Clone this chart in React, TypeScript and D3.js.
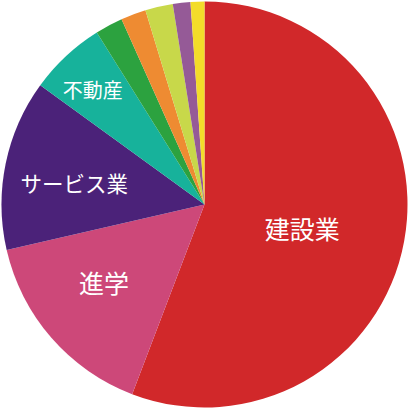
import * as d3 from "d3";

const categories = ["建設業", "進学", "サービス業", "不動産", "その他1", "その他2", "その他3", "その他4", "その他5"];
const values = [55.8, 15.6, 13.6, 6.1, 2.2, 2.0, 2.2, 1.4, 1.1];
const colors = ["#d1282a", "#cd4879", "#4b2279", "#17b29b", "#2ca23f", "#ee8b32", "#c8d84a", "#955a97", "#f3dc2a"];
const labels = ["建設業", "進学", "サービス業", "不動産", "", "", "", "", ""];
const labelSizes = [25, 25, 21.5, 20, 0, 0, 0, 0, 0];

const W = 409;
const H = 409;
const cx = 204.5;
const cy = 204.5;
const R = 203;

// label radius fraction and small pixel nudge per slice
const labelPlace: [number, number, number][] = [
  [0.6, -22, 1],
  [0.62, -5.5, -5],
  [0.66, 1, 5],
  [0.76, -6.5, -2],
];

export default function App() {
  const pie = d3.pie<number>().sort(null).value((d) => d);
  const arcs = pie(values);
  const arc = d3.arc<d3.PieArcDatum<number>>().innerRadius(0).outerRadius(R);

  return (
    <svg width={W} height={H} style={{ position: "absolute", left: 0, top: 0 }}>
      <g transform={`translate(${cx},${cy})`}>
        {arcs.map((a, i) => (
          <path key={categories[i]} d={arc(a) ?? ""} fill={colors[i]} />
        ))}
        {arcs.map((a, i) => {
          if (!labels[i]) return null;
          const [frac, nx, ny] = labelPlace[i];
          const mid = (a.startAngle + a.endAngle) / 2;
          const r = R * frac;
          const x = Math.sin(mid) * r + nx;
          const y = -Math.cos(mid) * r + ny;
          return (
            <text
              key={"l" + i}
              x={x}
              y={y}
              fill="#fff"
              fontSize={labelSizes[i]}
              fontFamily="'Noto Sans CJK JP', sans-serif"
              textAnchor="middle"
              dominantBaseline="central"
            >
              {labels[i]}
            </text>
          );
        })}
      </g>
    </svg>
  );
}
